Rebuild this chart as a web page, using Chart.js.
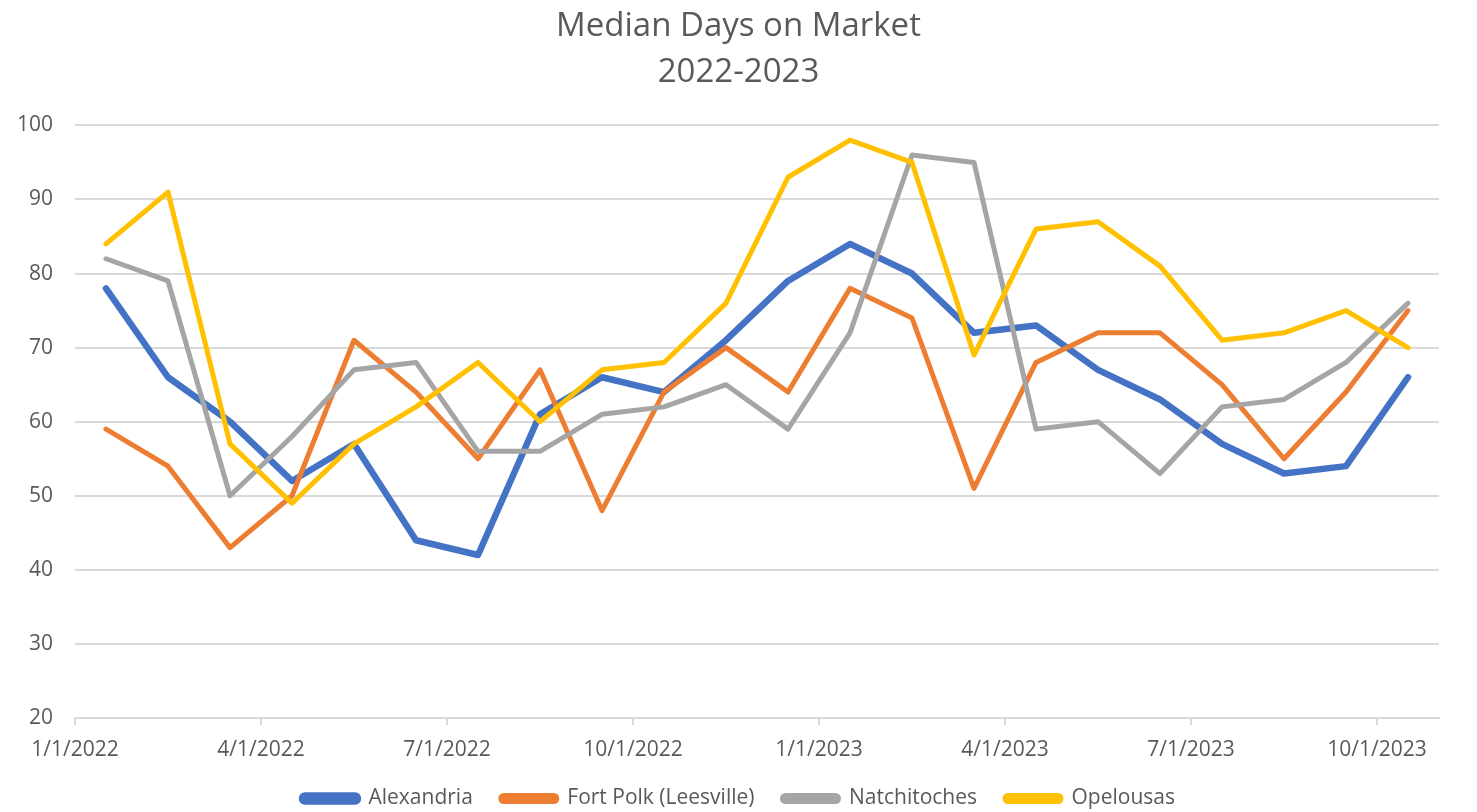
<!DOCTYPE html>
<html>
<head>
<meta charset="utf-8">
<title>Median Days on Market</title>
<script src="https://cdn.jsdelivr.net/npm/chart.js@4/dist/chart.umd.min.js"></script>
<style>
  html, body { margin: 0; padding: 0; background: #fff; }
  .chart-wrap { width: 1477px; height: 812px; position: relative; }
</style>
</head>
<body>
<div class="chart-wrap"><canvas id="domChart"></canvas></div>
<script>
/* ─── Data: monthly median days on market ─── */
const months = ['Jan 2022', 'Feb 2022', 'Mar 2022', 'Apr 2022', 'May 2022', 'Jun 2022',
  'Jul 2022', 'Aug 2022', 'Sep 2022', 'Oct 2022', 'Nov 2022', 'Dec 2022',
  'Jan 2023', 'Feb 2023', 'Mar 2023', 'Apr 2023', 'May 2023', 'Jun 2023',
  'Jul 2023', 'Aug 2023', 'Sep 2023', 'Oct 2023'];
const tickLabels = ['1/1/2022', '4/1/2022', '7/1/2022', '10/1/2022', '1/1/2023', '4/1/2023', '7/1/2023', '10/1/2023'];

const alexandria   = [78, 66, 60, 52, 57, 44, 42, 61, 66, 64, 71, 79, 84, 80, 72, 73, 67, 63, 57, 53, 54, 66];
const fortPolk     = [59, 54, 43, 50, 71, 64, 55, 67, 48, 64, 70, 64, 78, 74, 51, 68, 72, 72, 65, 55, 64, 75];
const natchitoches = [82, 79, 50, 58, 67, 68, 56, 56, 61, 62, 65, 59, 72, 96, 95, 59, 60, 53, 62, 63, 68, 76];
const opelousas    = [84, 91, 57, 49, 57, 62, 68, 60, 67, 68, 76, 93, 98, 95, 69, 86, 87, 81, 71, 72, 75, 70];

const FONT = "'Open Sans', 'Liberation Sans', sans-serif";
const TEXT = '#595959';
const GRID = '#D9D9D9';

// each month sits in the middle of its slot on the date axis
const toPoints = arr => arr.map((v, i) => ({ x: i + 0.5, y: v }));

// later series paint over earlier ones (lower order = drawn on top)
const series = [
  { label: 'Alexandria',            data: alexandria,   color: '#4472C4', width: 6.5, order: 3 },
  { label: 'Fort Polk (Leesville)', data: fortPolk,     color: '#ED7D31', width: 5,   order: 2 },
  { label: 'Natchitoches',          data: natchitoches, color: '#A5A5A5', width: 5,   order: 1 },
  { label: 'Opelousas',             data: opelousas,    color: '#FFC000', width: 5,   order: 0 }
];

// ─── Chart ───
new Chart(document.getElementById('domChart'), {
  type: 'line',
  data: {
    datasets: series.map(s => ({
      label: s.label,
      data: toPoints(s.data),
      borderColor: s.color,
      backgroundColor: s.color,
      borderWidth: s.width,
      borderJoinStyle: 'round',
      borderCapStyle: 'round',
      pointRadius: 0,
      tension: 0,
      order: s.order
    }))
  },
  options: {
    responsive: true,
    maintainAspectRatio: false,
    animation: false,
    layout: { padding: { left: 0, right: 0, top: 0, bottom: -7 } },
    plugins: {
      title: {
        display: true,
        text: ['Median Days on Market', '2022-2023'],
        color: TEXT,
        font: { family: FONT, size: 33, weight: 'normal', lineHeight: 1.4 },
        padding: { top: 3, bottom: 30 }
      },
      legend: {
        position: 'bottom',
        labels: {
          color: TEXT,
          font: { family: FONT, size: 21 },
          boxWidth: 56,
          boxHeight: 6,
          padding: 28,
          useBorderRadius: true,
          borderRadius: 3,
          sort: (a, b) => a.datasetIndex - b.datasetIndex
        }
      },
      tooltip: { enabled: false }
    },
    scales: {
      x: {
        type: 'linear',
        min: 0,
        max: months.length,
        grid: { drawOnChartArea: false, drawTicks: true, tickLength: 7, color: GRID, lineWidth: 2 },
        border: { display: true, color: GRID, width: 2 },
        ticks: {
          stepSize: 3,
          includeBounds: false,
          autoSkip: false,
          maxRotation: 0,
          padding: 12,
          color: TEXT,
          font: { family: FONT, size: 21 },
          callback: v => tickLabels[v / 3]
        },
        afterFit: scale => { scale.height = 42; }
      },
      y: {
        min: 20,
        max: 100,
        grid: { color: GRID, lineWidth: 2, drawTicks: false },
        border: { display: false },
        ticks: {
          stepSize: 10,
          padding: 22,
          color: TEXT,
          font: { family: FONT, size: 21 }
        },
        afterFit: scale => { scale.width = 75; }
      },
      // empty right-hand gutter so title and legend stay centred on the canvas
      gutter: {
        position: 'right',
        grid: { display: false },
        border: { display: false },
        ticks: { display: false },
        afterFit: scale => { scale.width = 38; }
      }
    }
  }
});
</script>
</body>
</html>
